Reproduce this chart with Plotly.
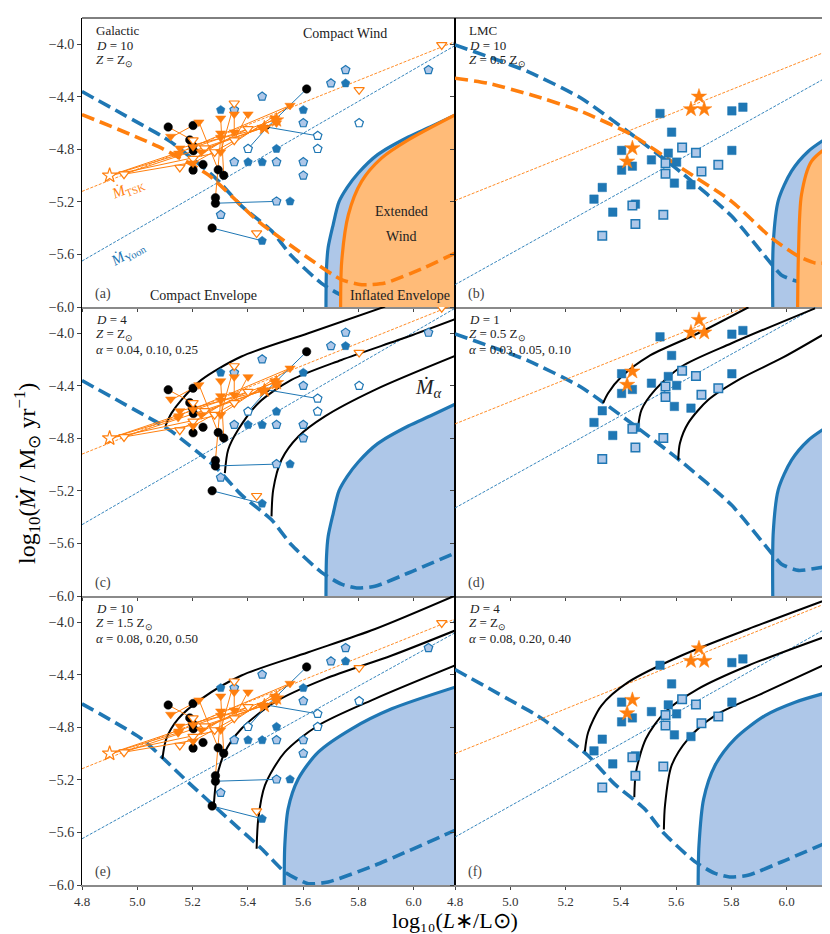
import plotly.graph_objects as go
from plotly.subplots import make_subplots

BLUE = "#1f77b4"
LBLUE = "#aec7e8"
ORANGE = "#ff7f0e"
LORANGE = "#ffbb78"
FONT = "Liberation Serif"

X0, X1 = 4.8, 6.15
Y0, Y1 = -6.0, -3.8
X_TICKS = [4.8, 5.0, 5.2, 5.4, 5.6, 5.8, 6.0]
Y_TICKS = [-6.0, -5.6, -5.2, -4.8, -4.4, -4.0]

# panel order a..f ; vertical shift of the observed rates (clumping D)
PANELS = ["a", "b", "c", "d", "e", "f"]
OBS_SHIFT = [0.0, 0.0, 0.2, 0.5, 0.0, 0.2]

# ---- Galactic sample (D = 10) ----
GAL_BLACK_X = [5.112, 5.202, 5.19, 5.203, 5.238, 5.202, 5.293, 5.313, 5.283, 5.283, 5.271, 5.613, 5.20]
GAL_BLACK_Y = [-4.63, -4.618, -4.728, -4.811, -4.915, -4.958, -4.956, -4.998, -5.168, -5.21, -5.399, -4.34, -4.77]
GAL_DOT_X = [5.471]
GAL_DOT_Y = [-4.631]
GAL_PENT_DARK_X = [5.302, 5.601, 5.754, 5.504, 5.401, 5.452, 5.553, 5.452, 6.16]
GAL_PENT_DARK_Y = [-4.50, -4.50, -4.297, -4.796, -4.897, -4.897, -5.196, -5.496, -4.0]
GAL_PENT_LIGHT_X = [5.452, 5.351, 5.701, 5.754, 5.601, 5.351, 5.504, 5.601, 5.601, 5.504, 5.302, 6.054]
GAL_PENT_LIGHT_Y = [-4.398, -4.50, -4.297, -4.195, -4.60, -4.897, -4.897, -4.897, -4.999, -5.196, -5.298, -4.195]
GAL_PENT_OPEN_X = [5.401, 5.653, 5.653, 5.803]
GAL_PENT_OPEN_Y = [-4.796, -4.697, -4.796, -4.60]
GAL_TRI_X = [5.302, 5.351, 5.401, 5.223, 5.553, 5.302, 5.351, 5.302, 5.121, 5.154, 5.148,
             5.202, 5.232, 5.302, 5.498, 5.504, 5.452, 5.202, 5.15]
GAL_TRI_Y = [-4.563, -4.532, -4.532, -4.593, -4.466, -4.677, -4.669, -4.71, -4.702, -4.791, -4.842,
             -4.78, -4.821, -4.821, -4.563, -4.60, -4.639, -4.905, -4.83]
GAL_TRI_OPEN_X = [5.351, 5.803, 6.102, 5.401, 5.351, 5.154, 5.432, 4.952, 5.202, 5.244, 5.28, 5.202]
GAL_TRI_OPEN_Y = [-4.449, -4.347, -4.005, -4.644, -4.73, -4.938, -5.437, -4.989, -4.73, -4.79, -4.82, -4.87]
GAL_STAR_OPEN_X = [4.90]
GAL_STAR_OPEN_Y = [-4.999]
GAL_STAR_X = [5.504, 5.46]
GAL_STAR_Y = [-4.578, -4.635]

# connecting segments: (x0, y0, x1, y1)
GAL_ORANGE_SEGS = [
    (4.90, -5.00, 5.50, -4.575), (4.95, -4.99, 5.45, -4.64), (4.90, -5.00, 5.30, -4.82),
    (4.90, -5.00, 5.15, -4.84), (4.95, -4.99, 5.20, -4.90), (5.112, -4.63, 5.20, -4.73),
    (5.202, -4.618, 5.124, -4.707), (5.223, -4.59, 5.293, -4.956), (5.302, -4.71, 5.283, -5.168),
    (5.553, -4.466, 5.20, -4.78), (5.553, -4.466, 5.30, -4.82), (5.50, -4.563, 5.202, -4.905),
    (5.452, -4.639, 5.154, -4.791), (5.401, -4.644, 5.232, -4.821), (5.351, -4.449, 5.302, -4.82),
    (5.351, -4.532, 5.351, -4.669), (5.302, -4.563, 5.313, -4.998), (5.50, -4.60, 5.25, -4.79),
    (5.154, -4.938, 5.30, -4.75), (5.40, -4.532, 5.35, -4.73),
]
GAL_BLUE_SEGS = [
    (5.613, -4.34, 5.471, -4.631), (5.471, -4.631, 5.653, -4.697), (5.401, -4.796, 5.471, -4.631),
    (5.283, -5.21, 5.504, -5.196), (5.271, -5.399, 5.452, -5.496),
]

# ---- LMC sample (D = 10) ----
LMC_SQ_X = [5.542, 5.802, 5.842, 5.584, 5.403, 5.802, 5.572, 5.511, 5.602, 5.442, 5.403,
            5.594, 5.654, 5.333, 5.303, 5.453, 5.371]
LMC_SQ_Y = [-4.527, -4.507, -4.479, -4.669, -4.808, -4.808, -4.829, -4.880, -4.897, -4.928, -4.958,
            -5.057, -5.07, -5.09, -5.179, -5.217, -5.278]
LMC_SQ_LIGHT_X = [5.622, 5.672, 5.562, 5.753, 5.562, 5.692, 5.442, 5.453, 5.554, 5.333]
LMC_SQ_LIGHT_Y = [-4.786, -4.826, -4.905, -4.918, -4.986, -4.968, -5.227, -5.369, -5.298, -5.458]
LMC_STAR_X = [5.683, 5.654, 5.702, 5.442, 5.423]
LMC_STAR_Y = [-4.398, -4.494, -4.494, -4.791, -4.892]

# ---- mass-loss prescriptions: y at x = 4.8 and x = 6.15, per panel ----
TSK_Y0 = [-5.12, -5.19, -4.92, -4.69, -5.115, -5.0]
TSK_Y1 = [-3.98, -4.05, -3.78, -3.55, -3.975, -3.85]
YOON_Y0 = [-5.65, -5.83, -5.457, -5.33, -5.648, -5.635]
YOON_Y1 = [-4.01, -4.246, -3.81, -3.75, -4.08, -4.04]

# ---- boundary curves ----
DASH_Z1_X = [4.80, 5.087, 5.123, 5.281, 5.377, 5.486, 5.558, 5.667, 5.739, 5.794, 5.86, 5.981, 6.15]
DASH_Z1_Y = [-4.36, -4.697, -4.745, -5.014, -5.23, -5.42, -5.61, -5.82, -5.91, -5.939, -5.926, -5.825, -5.673]
DASH_LMC_X = [4.80, 5.064, 5.257, 5.44, 5.62, 5.801, 5.946, 5.982, 6.043, 6.133, 6.15]
DASH_LMC_Y = [-4.005, -4.208, -4.411, -4.687, -4.978, -5.308, -5.675, -5.758, -5.805, -5.78, -5.775]
DASH_Z15_X = [4.80, 5.015, 5.184, 5.329, 5.45, 5.534, 5.619, 5.691, 5.86, 6.15]
DASH_Z15_Y = [-4.621, -4.887, -5.217, -5.496, -5.724, -5.901, -5.99, -5.977, -5.85, -5.584]
ODASH_A_X = [4.80, 5.075, 5.257, 5.438, 5.619, 5.739, 5.812, 5.897, 6.04, 6.15]
ODASH_A_Y = [-4.535, -4.778, -4.994, -5.348, -5.627, -5.792, -5.83, -5.817, -5.70, -5.59]
ODASH_B_X = [4.80, 4.92, 5.077, 5.258, 5.44, 5.62, 5.801, 5.946, 6.043, 6.103, 6.15]
ODASH_B_Y = [-4.259, -4.297, -4.386, -4.512, -4.69, -4.943, -5.196, -5.475, -5.614, -5.665, -5.665]

EDGE_Z1_X = [5.683, 5.685, 5.691, 5.709, 5.73, 5.76, 5.80, 5.87, 5.981, 6.06, 6.15]
EDGE_Z1_Y = [-6.0, -5.70, -5.546, -5.374, -5.20, -5.09, -4.98, -4.84, -4.706, -4.63, -4.54]
EDGE_F_X = [5.68, 5.683, 5.70, 5.741, 5.813, 5.922, 6.031, 6.152]
EDGE_F_Y = [-6.0, -5.698, -5.344, -5.09, -4.887, -4.71, -4.608, -4.532]
EDGE_LMC_X = [5.95, 5.952, 5.97, 6.018, 6.079, 6.151]
EDGE_LMC_Y = [-6.0, -5.51, -5.19, -4.966, -4.814, -4.706]
EDGE_Z15_X = [5.532, 5.534, 5.546, 5.583, 5.655, 5.776, 5.921, 6.15]
EDGE_Z15_Y = [-6.0, -5.698, -5.42, -5.192, -4.989, -4.811, -4.659, -4.494]
OEDGE_A_X = [5.736, 5.74, 5.764, 5.812, 5.884, 5.981, 6.15]
OEDGE_A_Y = [-6.0, -5.652, -5.298, -5.044, -4.867, -4.728, -4.538]
OEDGE_B_X = [6.04, 6.043, 6.054, 6.09, 6.151]
OEDGE_B_Y = [-6.0, -5.602, -5.146, -4.892, -4.778]

# ---- M_alpha tracks (three alphas per panel) ----
ALPHA_C_X = [[5.102, 5.124, 5.16, 5.232, 5.377, 5.619, 5.897],
             [5.317, 5.329, 5.365, 5.438, 5.558, 5.739, 5.981, 6.15],
             [5.486, 5.492, 5.522, 5.583, 5.679, 5.86, 6.15]]
ALPHA_C_Y = [[-4.705, -4.608, -4.507, -4.355, -4.177, -4.0, -3.797],
             [-5.065, -4.887, -4.735, -4.532, -4.355, -4.203, -4.025, -3.893],
             [-5.394, -5.192, -4.963, -4.786, -4.633, -4.431, -4.173]]
ALPHA_D_X = [[5.336, 5.354, 5.403, 5.499, 5.68, 5.862],
             [5.463, 5.475, 5.524, 5.62, 5.801, 6.103],
             [5.608, 5.614, 5.644, 5.717, 5.837, 5.982, 6.151]]
ALPHA_D_Y = [[-4.532, -4.456, -4.329, -4.177, -4.0, -3.802],
             [-4.71, -4.583, -4.431, -4.253, -4.076, -3.81],
             [-4.963, -4.837, -4.684, -4.507, -4.342, -4.19, -3.987]]
ALPHA_E_X = [[5.091, 5.105, 5.148, 5.232, 5.377, 5.619, 5.861, 6.15],
             [5.277, 5.287, 5.317, 5.377, 5.498, 5.679, 5.921, 6.15],
             [5.432, 5.438, 5.462, 5.534, 5.655, 5.86, 6.15]]
ALPHA_E_Y = [[-5.04, -4.887, -4.735, -4.583, -4.405, -4.228, -4.051, -3.797],
             [-5.394, -5.192, -4.989, -4.811, -4.608, -4.431, -4.253, -4.063],
             [-5.724, -5.496, -5.242, -4.989, -4.786, -4.583, -4.329]]
ALPHA_F_X = [[5.27, 5.282, 5.33, 5.427, 5.62, 5.862, 6.151],
             [5.449, 5.455, 5.491, 5.56, 5.68, 5.862, 6.151],
             [5.556, 5.56, 5.584, 5.644, 5.741, 5.922, 6.151]]
ALPHA_F_Y = [[-4.983, -4.837, -4.634, -4.456, -4.253, -4.051, -3.823],
             [-5.331, -5.141, -4.887, -4.684, -4.507, -4.329, -4.101],
             [-5.577, -5.394, -5.09, -4.887, -4.71, -4.532, -4.31]]

PANEL_TEXT = {
    "a": ["Galactic", "<i>D</i> = 10", "<i>Z</i> = Z<sub>⊙</sub>"],
    "b": ["LMC", "<i>D</i> = 10", "<i>Z</i> = 0.5 Z<sub>⊙</sub>"],
    "c": ["<i>D</i> = 4", "<i>Z</i> = Z<sub>⊙</sub>", "<i>α</i> = 0.04, 0.10, 0.25"],
    "d": ["<i>D</i> = 1", "<i>Z</i> = 0.5 Z<sub>⊙</sub>", "<i>α</i> = 0.03, 0.05, 0.10"],
    "e": ["<i>D</i> = 10", "<i>Z</i> = 1.5 Z<sub>⊙</sub>", "<i>α</i> = 0.08, 0.20, 0.50"],
    "f": ["<i>D</i> = 4", "<i>Z</i> = Z<sub>⊙</sub>", "<i>α</i> = 0.08, 0.20, 0.40"],
}

fig = make_subplots(rows=3, cols=2, horizontal_spacing=0, vertical_spacing=0,
                    shared_xaxes=False, shared_yaxes=False)


def rc(i):
    return i // 2 + 1, i % 2 + 1


def add(tr, i):
    r, c = rc(i)
    fig.add_trace(tr, row=r, col=c)


def segs(seglist, dy):
    xs, ys = [], []
    for x0, y0, x1, y1 in seglist:
        xs += [x0, x1, None]
        ys += [y0 + dy, y1 + dy, None]
    return xs, ys


def region(ex, ey, i, fill, edge):
    add(go.Scatter(x=ex + [X1 + 0.01, X1 + 0.01], y=ey + [ey[-1], Y0 - 0.01], mode="lines",
                   fill="toself", fillcolor=fill, line=dict(width=0), hoverinfo="skip"), i)
    add(go.Scatter(x=ex, y=ey, mode="lines", line=dict(color=edge, width=3.2, shape="spline",
                                                        smoothing=0.8), hoverinfo="skip"), i)


def dashed(x, y, color, i):
    add(go.Scatter(x=x, y=y, mode="lines", hoverinfo="skip",
                   line=dict(color=color, width=3.6, dash="13px,6px", shape="spline", smoothing=0.6)), i)


def marks(x, y, dy, i, symbol, size, color, lcolor, lw=1.0):
    add(go.Scatter(x=x, y=[v + dy for v in y], mode="markers",
                   marker=dict(symbol=symbol, size=size, color=color,
                               line=dict(color=lcolor, width=lw))), i)


TICKFONT = dict(family=FONT, size=14, color="#333")
XTICKFONT = dict(family=FONT, size=13, color="#333")

for i, p in enumerate(PANELS):
    dy = OBS_SHIFT[i]
    galactic = p in ("a", "c", "e")

    # unstable / inflated region
    if p in ("a", "c"):
        region(EDGE_Z1_X, EDGE_Z1_Y, i, LBLUE, BLUE)
        dashed(DASH_Z1_X, DASH_Z1_Y, BLUE, i)
    elif p == "f":
        region(EDGE_F_X, EDGE_F_Y, i, LBLUE, BLUE)
        dashed(DASH_Z1_X, DASH_Z1_Y, BLUE, i)
    elif p in ("b", "d"):
        region(EDGE_LMC_X, EDGE_LMC_Y, i, LBLUE, BLUE)
        dashed(DASH_LMC_X, DASH_LMC_Y, BLUE, i)
    else:
        region(EDGE_Z15_X, EDGE_Z15_Y, i, LBLUE, BLUE)
        dashed(DASH_Z15_X, DASH_Z15_Y, BLUE, i)
    if p == "a":
        region(OEDGE_A_X, OEDGE_A_Y, i, LORANGE, ORANGE)
        dashed(ODASH_A_X, ODASH_A_Y, ORANGE, i)
    if p == "b":
        region(OEDGE_B_X, OEDGE_B_Y, i, LORANGE, ORANGE)
        dashed(ODASH_B_X, ODASH_B_Y, ORANGE, i)

    # prescription lines
    add(go.Scatter(x=[X0, X1], y=[TSK_Y0[i], TSK_Y1[i]], mode="lines",
                   line=dict(color=ORANGE, width=0.9, dash="3px,1.5px")), i)
    add(go.Scatter(x=[X0, X1], y=[YOON_Y0[i], YOON_Y1[i]], mode="lines",
                   line=dict(color=BLUE, width=0.9, dash="3px,1.5px")), i)

    # M_alpha tracks
    ax = {"c": ALPHA_C_X, "d": ALPHA_D_X, "e": ALPHA_E_X, "f": ALPHA_F_X}.get(p)
    ay = {"c": ALPHA_C_Y, "d": ALPHA_D_Y, "e": ALPHA_E_Y, "f": ALPHA_F_Y}.get(p)
    if ax:
        for tx, ty in zip(ax, ay):
            add(go.Scatter(x=tx, y=ty, mode="lines",
                           line=dict(color="black", width=2, shape="spline", smoothing=0.8)), i)

    # observations
    if galactic:
        sx, sy = segs(GAL_BLUE_SEGS, dy)
        add(go.Scatter(x=sx, y=sy, mode="lines", line=dict(color=BLUE, width=1)), i)
        sx, sy = segs(GAL_ORANGE_SEGS, dy)
        add(go.Scatter(x=sx, y=sy, mode="lines", line=dict(color=ORANGE, width=1)), i)
        marks(GAL_PENT_DARK_X, GAL_PENT_DARK_Y, dy, i, "pentagon", 9, BLUE, BLUE, 0.5)
        marks(GAL_PENT_LIGHT_X, GAL_PENT_LIGHT_Y, dy, i, "pentagon", 9, LBLUE, BLUE, 1.2)
        marks(GAL_PENT_OPEN_X, GAL_PENT_OPEN_Y, dy, i, "pentagon", 9, "white", BLUE, 1.2)
        marks(GAL_BLACK_X, GAL_BLACK_Y, dy, i, "circle", 8.5, "black", "black", 0.5)
        marks(GAL_DOT_X, GAL_DOT_Y, dy, i, "circle", 4, "black", "black", 0.5)
        marks(GAL_TRI_OPEN_X, GAL_TRI_OPEN_Y, dy, i, "triangle-down", 9, "white", ORANGE, 1.2)
        marks(GAL_TRI_X, GAL_TRI_Y, dy, i, "triangle-down", 9, ORANGE, ORANGE, 0.5)
        marks(GAL_STAR_OPEN_X, GAL_STAR_OPEN_Y, dy, i, "star", 11, "white", ORANGE, 1.2)
        marks(GAL_STAR_X, GAL_STAR_Y, dy, i, "star", 11, ORANGE, ORANGE, 0.5)
    else:
        marks(LMC_SQ_X, LMC_SQ_Y, dy, i, "square", 8.5, BLUE, BLUE, 0.5)
        marks(LMC_SQ_LIGHT_X, LMC_SQ_LIGHT_Y, dy, i, "square", 8.5, LBLUE, BLUE, 1.5)
        marks(LMC_STAR_X, LMC_STAR_Y, dy, i, "star", 11.5, ORANGE, ORANGE, 0.5)

    # axes
    r, c = rc(i)
    fig.update_xaxes(range=[X0, X1], tickvals=X_TICKS, tickformat=".1f", ticks="outside", ticklen=3,
                     showticklabels=(r == 3), showline=True, linecolor="#8a8a8a", linewidth=2,
                     mirror=False, showgrid=False, zeroline=False, tickfont=XTICKFONT, row=r, col=c)
    fig.update_yaxes(range=[Y0, Y1], tickvals=Y_TICKS, tickformat=".1f", ticks="outside", ticklen=4,
                     showticklabels=(c == 1), showline=True, linecolor="black", linewidth=1,
                     mirror=True, showgrid=False, zeroline=False, tickfont=TICKFONT, row=r, col=c)

    # panel text
    xr = "x" if i == 0 else f"x{i + 1}"
    yr = "y" if i == 0 else f"y{i + 1}"
    tfont = dict(family=FONT, size=13, color="#222")
    for k, line in enumerate(PANEL_TEXT[p]):
        fig.add_annotation(x=4.845, y=-3.895 - 0.113 * k, xref=xr, yref=yr, text=line,
                           showarrow=False, xanchor="left", yanchor="middle", font=tfont)
    fig.add_annotation(x=4.84, y=-5.90, xref=xr, yref=yr, text=f"({p})", showarrow=False,
                       xanchor="left", yanchor="middle", font=dict(family=FONT, size=14, color="#444"))

# region labels in panel (a)
lab = dict(family=FONT, size=14, color="#222")
fig.add_annotation(x=5.752, y=-3.915, xref="x", yref="y", text="Compact Wind", showarrow=False, font=lab)
fig.add_annotation(x=5.957, y=-5.27, xref="x", yref="y", text="Extended", showarrow=False, font=lab)
fig.add_annotation(x=5.957, y=-5.46, xref="x", yref="y", text="Wind", showarrow=False, font=lab)
fig.add_annotation(x=5.238, y=-5.915, xref="x", yref="y", text="Compact Envelope", showarrow=False, font=lab)
fig.add_annotation(x=5.95, y=-5.915, xref="x", yref="y", text="Inflated Envelope", showarrow=False, font=lab)
fig.add_annotation(x=4.967, y=-5.10, xref="x", yref="y", text="<i>Ṁ</i><sub>TSK</sub>", showarrow=False,
                   textangle=-22, font=dict(family=FONT, size=15, color=ORANGE))
fig.add_annotation(x=4.967, y=-5.60, xref="x", yref="y", text="<i>Ṁ</i><sub>Yoon</sub>", showarrow=False,
                   textangle=-30, font=dict(family=FONT, size=15, color=BLUE))
fig.add_annotation(x=6.054, y=-4.42, xref="x3", yref="y3", text="<i>Ṁ</i><sub><i>α</i></sub>",
                   showarrow=False, font=dict(family=FONT, size=21, color="#222"))

# outer frame top edge
fig.add_shape(type="line", xref="paper", yref="paper", x0=0, x1=1, y0=1, y1=1,
              line=dict(color="black", width=1))

# axis titles
fig.add_annotation(x=-0.074, y=0.475, xref="paper", yref="paper", textangle=-90, showarrow=False,
                   xanchor="center", yanchor="middle",
                   text="log<sub>10</sub>(<i>Ṁ</i> / M<sub>⊙</sub> yr<sup>−1</sup>)",
                   font=dict(family=FONT, size=24, color="black"))
fig.add_annotation(x=0.5, y=-0.058, xref="paper", yref="paper", showarrow=False, yanchor="bottom",
                   text="log₁₀(<i>L</i>∗/L⊙)",
                   font=dict(family=FONT, size=22, color="black"))

fig.update_layout(width=830, height=934, showlegend=False, plot_bgcolor="white", paper_bgcolor="white",
                  margin=dict(l=74, r=10, t=10, b=57),
                  font=dict(family=FONT, size=14, color="#444"))

fig.write_html("out.html")
